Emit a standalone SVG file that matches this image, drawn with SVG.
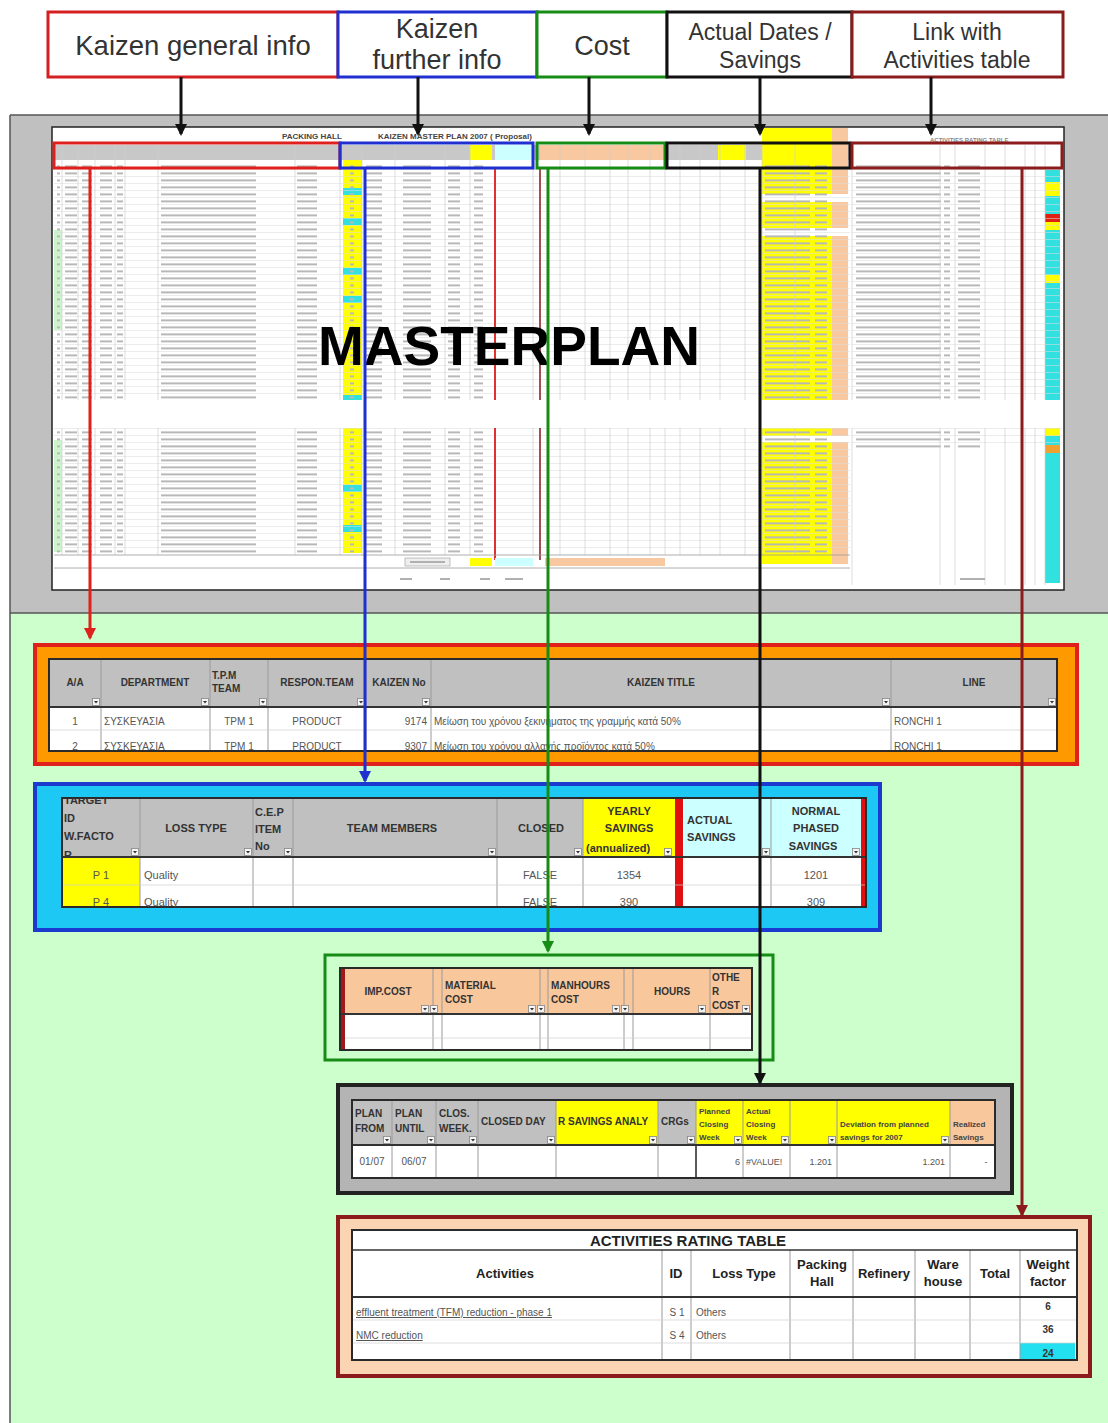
<svg xmlns="http://www.w3.org/2000/svg" xmlns:xlink="http://www.w3.org/1999/xlink" width="1108" height="1423" viewBox="0 0 1108 1423">
<style>
text{font-family:"Liberation Sans",Arial,sans-serif}
.lbl{font-size:25px;fill:#333;text-anchor:middle}
.hb{font-size:10px;font-weight:bold;fill:#333}
.hbc{font-size:10px;font-weight:bold;fill:#333;text-anchor:middle}
.bt{font-size:10px;fill:#555}
.btc{font-size:10px;fill:#555;text-anchor:middle}
.btr{font-size:10px;fill:#555;text-anchor:end}
.sm{font-size:8px;font-weight:bold;fill:#444}
.grid{stroke:#9a9a9a;stroke-width:1;fill:none}
.lgrid{stroke:#cfcfcf;stroke-width:0.7;fill:none}
.tbl{fill:none;stroke:#2a2a2a;stroke-width:2}
.con{fill:none;stroke-width:3}
</style>
<defs>
<marker id="akr" markerWidth="12" markerHeight="12" refX="6" refY="10" markerUnits="userSpaceOnUse" viewBox="0 0 12 12"><path d="M0,0 L12,0 L6,12 Z" fill="#e0201c"/></marker>
<marker id="akb" markerWidth="12" markerHeight="12" refX="6" refY="10" markerUnits="userSpaceOnUse" viewBox="0 0 12 12"><path d="M0,0 L12,0 L6,12 Z" fill="#1f2fd0"/></marker>
<marker id="akg" markerWidth="12" markerHeight="12" refX="6" refY="10" markerUnits="userSpaceOnUse" viewBox="0 0 12 12"><path d="M0,0 L12,0 L6,12 Z" fill="#168c16"/></marker>
<marker id="akk" markerWidth="12" markerHeight="12" refX="6" refY="10" markerUnits="userSpaceOnUse" viewBox="0 0 12 12"><path d="M0,0 L12,0 L6,12 Z" fill="#111"/></marker>
<marker id="akd" markerWidth="12" markerHeight="12" refX="6" refY="10" markerUnits="userSpaceOnUse" viewBox="0 0 12 12"><path d="M0,0 L12,0 L6,12 Z" fill="#8c1c1c"/></marker>
<symbol id="fb" viewBox="0 0 8 8" width="8" height="8"><rect x="0.5" y="0.5" width="7" height="7" fill="#f4f4f4" stroke="#888" stroke-width="0.8"/><path d="M2,3 L6,3 L4,5.5 Z" fill="#333"/></symbol>
<pattern id="rowp" patternUnits="userSpaceOnUse" x="0" y="163" width="1108" height="7">
<line x1="0" y1="6.6" x2="1108" y2="6.6" stroke="#dcdcdc" stroke-width="0.6"/>
<g fill="#b8b8b8">
<rect x="57" y="2.4" width="3" height="2"/><rect x="65" y="2.4" width="12" height="2"/><rect x="82" y="2.4" width="10" height="2"/>
<rect x="100" y="2.4" width="12" height="2"/><rect x="117" y="2.4" width="6" height="2"/><rect x="161" y="2.4" width="95" height="2"/>
<rect x="297" y="2.4" width="20" height="2"/><rect x="350" y="2.4" width="4" height="2"/><rect x="366" y="2.4" width="16" height="2"/>
<rect x="403" y="2.4" width="28" height="2"/><rect x="448" y="2.4" width="12" height="2"/><rect x="474" y="2.4" width="9" height="2"/>
<rect x="765" y="2.4" width="45" height="2"/><rect x="815" y="2.4" width="12" height="2"/><rect x="856" y="2.4" width="85" height="2"/>
<rect x="944" y="2.4" width="6" height="2"/><rect x="958" y="2.4" width="22" height="2"/>
</g>
</pattern>
<clipPath id="cTarget"><rect x="62" y="798" width="78" height="59"/></clipPath>
<clipPath id="cYearly"><rect x="583" y="798" width="80" height="59"/></clipPath>
<clipPath id="cLoss"><rect x="62" y="798" width="804" height="109"/></clipPath>
<clipPath id="cDept"><rect x="49" y="659" width="1008" height="92"/></clipPath>
<clipPath id="cDates"><rect x="352" y="1100" width="643" height="78"/></clipPath>
<clipPath id="cAct"><rect x="352" y="1230" width="725" height="130"/></clipPath>
</defs>

<rect width="1108" height="1423" fill="#ffffff"/>
<rect x="10" y="115" width="1098" height="498" fill="#c0c0c0"/>
<rect x="10" y="613" width="1098" height="810" fill="#ccffcc"/>
<path d="M10,115 H1108 M10,613 H1108 M10,115 V1423" stroke="#555" stroke-width="1.5" fill="none"/>

<!-- label boxes -->
<g id="lbl-general"><rect x="48" y="12" width="290" height="65" fill="#fff" stroke="#d42020" stroke-width="3"/><text class="lbl" x="193" y="55" style="font-size:27.5px">Kaizen general info</text></g>
<g id="lbl-further"><rect x="338" y="12" width="199" height="65" fill="#fff" stroke="#1f2fd0" stroke-width="3"/><text class="lbl" x="437" y="38" style="font-size:27px">Kaizen</text><text class="lbl" x="437" y="69" style="font-size:27px">further info</text></g>
<g id="lbl-cost"><rect x="537" y="12" width="130" height="65" fill="#fff" stroke="#168c16" stroke-width="3"/><text class="lbl" x="602" y="55" style="font-size:27px">Cost</text></g>
<g id="lbl-dates"><rect x="667" y="12" width="185" height="65" fill="#fff" stroke="#111" stroke-width="3"/><text class="lbl" x="760" y="40" style="font-size:23px">Actual Dates /</text><text class="lbl" x="760" y="68" style="font-size:23px">Savings</text></g>
<g id="lbl-link"><rect x="852" y="12" width="211" height="65" fill="#fff" stroke="#8c1c1c" stroke-width="3"/><text class="lbl" x="957" y="40" style="font-size:23px">Link with</text><text class="lbl" x="957" y="68" style="font-size:23px">Activities table</text></g>

<!-- masterplan spreadsheet -->
<g id="masterplan">
<rect x="52" y="127" width="1012" height="463" fill="#fff" stroke="#222" stroke-width="1.5"/>
<rect x="762" y="128" width="70" height="272" fill="#ffff00"/>
<rect x="832" y="128" width="16" height="272" fill="#f8c8a0"/>
<rect x="762" y="428" width="70" height="136" fill="#ffff00"/>
<rect x="832" y="428" width="16" height="136" fill="#f8c8a0"/>
<rect x="762" y="194" width="86" height="8" fill="#fff"/>
<rect x="762" y="228" width="86" height="8" fill="#fff"/>
<rect x="762" y="436" width="86" height="6" fill="#fff"/>
<rect x="54" y="145" width="796" height="15" fill="#c8c8c8"/>
<rect x="470" y="145" width="22" height="15" fill="#ffff00"/>
<rect x="495" y="145" width="38" height="15" fill="#ccffff"/>
<rect x="540" y="145" width="125" height="15" fill="#f8c8a0"/>
<rect x="718" y="145" width="28" height="15" fill="#ffff00"/>
<rect x="762" y="145" width="70" height="15" fill="#ffff00"/>
<rect x="832" y="145" width="16" height="15" fill="#f8c8a0"/>
<rect x="343" y="160" width="19" height="240" fill="#ffff00"/>
<rect x="343" y="428" width="19" height="125" fill="#ffff00"/>
<g fill="#33e0e0">
<rect x="343" y="188" width="19" height="7"/><rect x="343" y="218" width="19" height="7"/><rect x="343" y="268" width="19" height="7"/>
<rect x="343" y="296" width="19" height="7"/><rect x="343" y="395" width="19" height="5"/><rect x="343" y="485" width="19" height="7"/><rect x="343" y="525" width="19" height="7"/>
<rect x="1045" y="170" width="15" height="230" /><rect x="1045" y="428" width="15" height="155"/>
</g>
<rect x="1045" y="182" width="15" height="14" fill="#ffff00"/>
<rect x="1045" y="214" width="15" height="8" fill="#e02010"/>
<rect x="1045" y="222" width="15" height="8" fill="#ffff00"/>
<rect x="1045" y="275" width="15" height="8" fill="#ffff00"/>
<rect x="1045" y="428" width="15" height="8" fill="#ffff00"/>
<rect x="1045" y="445" width="15" height="8" fill="#f0a030"/>
<rect x="54" y="230" width="8" height="100" fill="#ccf5cc"/>
<rect x="54" y="440" width="8" height="112" fill="#ccf5cc"/>
<rect x="54" y="163" width="796" height="237" fill="url(#rowp)"/>
<rect x="852" y="163" width="210" height="237" fill="url(#rowp)"/>
<rect x="54" y="428" width="796" height="126" fill="url(#rowp)"/>
<rect x="852" y="428" width="210" height="21" fill="url(#rowp)"/>
<path class="lgrid" d="M62,145V400M78,145V400M95,145V400M115,145V400M125,145V400M158,145V400M295,145V400M340,145V400M362,145V400M395,145V400M445,145V400M470,145V400M533,145V400M560,145V400M585,145V400M610,145V400M628,145V400M650,145V400M665,145V400M680,145V400M700,145V400M720,145V400M745,145V400M762,145V400M795,145V400M852,145V400M940,145V400M955,145V400M985,145V400M1005,145V400M1025,145V400M1035,145V400M1045,145V400
M62,428V555M78,428V555M95,428V555M115,428V555M125,428V555M158,428V555M295,428V555M340,428V555M362,428V555M395,428V555M445,428V555M470,428V555M533,428V555M560,428V555M585,428V555M610,428V555M628,428V555M650,428V555M665,428V555M680,428V555M700,428V555M720,428V555M745,428V555M762,428V555M795,428V555M852,428V585M940,428V585M955,428V585M985,428V585M1005,428V585M1025,428V585M1035,428V585M1045,428V585"/>
<path d="M495,168V400M495,428V560" stroke="#e03030" stroke-width="2"/>
<path d="M540,168V400M540,428V560" stroke="#a05050" stroke-width="2"/>
<path d="M54,555H850M54,568H850" stroke="#999" stroke-width="0.8"/>
<rect x="405" y="558" width="45" height="8" fill="#eee" stroke="#999" stroke-width="0.6"/>
<rect x="470" y="558" width="22" height="8" fill="#ffff00"/>
<rect x="495" y="558" width="38" height="8" fill="#ccffff"/>
<rect x="545" y="558" width="120" height="8" fill="#f8c8a0"/>
<g fill="#b0b0b0"><rect x="410" y="561" width="35" height="2"/><rect x="400" y="578" width="12" height="2"/><rect x="440" y="578" width="10" height="2"/><rect x="480" y="578" width="10" height="2"/><rect x="505" y="578" width="18" height="2"/><rect x="960" y="578" width="25" height="2"/></g>
<text class="sm" x="282" y="139">PACKING HALL</text>
<text class="sm" x="378" y="139">KAIZEN MASTER PLAN 2007   ( Proposal)</text>
<text x="930" y="142" style="font-size:6px;fill:#888;font-weight:bold">ACTIVITIES RATING TABLE</text>
<text x="318" y="365" textLength="382" lengthAdjust="spacingAndGlyphs" style="font-size:56px;font-weight:bold;fill:#000">MASTERPLAN</text>
<rect x="54" y="143" width="286" height="25" fill="none" stroke="#e0201c" stroke-width="3"/>
<rect x="340" y="143" width="193" height="25" fill="none" stroke="#1f2fd0" stroke-width="3"/>
<rect x="537" y="143" width="128" height="25" fill="none" stroke="#168c16" stroke-width="3"/>
<rect x="667" y="143" width="183" height="25" fill="none" stroke="#111" stroke-width="3"/>
<rect x="852" y="143" width="210" height="25" fill="none" stroke="#8c1c1c" stroke-width="3"/>
</g>

<!-- department table -->
<g id="dept-table">
<rect x="35" y="645" width="1042" height="119" fill="#ff9900" stroke="#e0201c" stroke-width="4"/>
<rect x="49" y="659" width="1008" height="92" fill="#fff"/>
<rect x="49" y="659" width="1008" height="48" fill="#c0c0c0"/>
<path class="grid" d="M101,659V751M210,659V751M268,659V751M366,659V751M431,659V751M891,659V751"/>
<path class="lgrid" d="M49,730H1057"/>
<path d="M49,707H1057" stroke="#333" stroke-width="2"/>
<rect class="tbl" x="49" y="659" width="1008" height="92"/>
<text class="hbc" x="75" y="686">A/A</text>
<text class="hbc" x="155" y="686">DEPARTMENT</text>
<text class="hb" x="212" y="679">T.P.M</text><text class="hb" x="212" y="692">TEAM</text>
<text class="hbc" x="317" y="686">RESPON.TEAM</text>
<text class="hbc" x="399" y="686">KAIZEN No</text>
<text class="hbc" x="661" y="686">KAIZEN  TITLE</text>
<text class="hbc" x="974" y="686">LINE</text>
<use href="#fb" x="92" y="698"/><use href="#fb" x="201" y="698"/><use href="#fb" x="259" y="698"/><use href="#fb" x="357" y="698"/><use href="#fb" x="422" y="698"/><use href="#fb" x="882" y="698"/><use href="#fb" x="1048" y="698"/>
<g clip-path="url(#cDept)">
<text class="btc" x="75" y="725">1</text><text class="bt" x="104" y="725">ΣΥΣΚΕΥΑΣΙΑ</text><text class="btc" x="239" y="725">TPM 1</text><text class="btc" x="317" y="725">PRODUCT</text><text class="btr" x="427" y="725">9174</text>
<text class="bt" x="434" y="725">Μείωση του χρόνου ξεκινήματος της γραμμής κατά 50%</text><text class="bt" x="894" y="725">RONCHI 1</text>
<text class="btc" x="75" y="750">2</text><text class="bt" x="104" y="750">ΣΥΣΚΕΥΑΣΙΑ</text><text class="btc" x="239" y="750">TPM 1</text><text class="btc" x="317" y="750">PRODUCT</text><text class="btr" x="427" y="750">9307</text>
<text class="bt" x="434" y="750">Μείωση του χρόνου αλλαγής προϊόντος κατά 50%</text><text class="bt" x="894" y="750">RONCHI 1</text>
</g>
</g>

<!-- loss / savings table -->
<g id="loss-table">
<rect x="35" y="784" width="845" height="146" fill="#1ec8f4" stroke="#1a3ad0" stroke-width="4"/>
<rect x="62" y="798" width="804" height="109" fill="#fff"/>
<rect x="62" y="798" width="521" height="59" fill="#c0c0c0"/>
<rect x="583" y="798" width="92" height="59" fill="#ffff00"/>
<rect x="684" y="798" width="177" height="59" fill="#ccffff"/>
<rect x="62" y="858" width="78" height="49" fill="#ffff00"/>
<rect x="675" y="798" width="8" height="109" fill="#e01010"/>
<rect x="861" y="798" width="5" height="109" fill="#e01010"/>
<path class="grid" d="M140,798V907M253,798V907M293,798V907M497,798V907M583,798V907M771,798V907"/>
<path class="lgrid" d="M62,885H866"/>
<path d="M62,857H866" stroke="#333" stroke-width="2"/>
<rect class="tbl" x="62" y="798" width="804" height="109"/>
<g clip-path="url(#cTarget)"><text class="hb" x="64" y="804" style="font-size:11px">TARGET</text><text class="hb" x="64" y="822" style="font-size:11px">ID</text><text class="hb" x="64" y="840" style="font-size:11px">W.FACTO</text><text class="hb" x="64" y="859" style="font-size:11px">R</text></g>
<text class="hbc" x="196" y="832" style="font-size:11px">LOSS TYPE</text>
<text class="hb" x="255" y="816" style="font-size:11px">C.E.P</text><text class="hb" x="255" y="833" style="font-size:11px">ITEM</text><text class="hb" x="255" y="850" style="font-size:11px">No</text>
<text class="hbc" x="392" y="832" style="font-size:11px">TEAM   MEMBERS</text>
<text class="hbc" x="541" y="832" style="font-size:11px">CLOSED</text>
<g clip-path="url(#cYearly)"><text class="hbc" x="629" y="815" style="font-size:11px">YEARLY</text><text class="hbc" x="629" y="832" style="font-size:11px">SAVINGS</text><text class="hb" x="586" y="852" style="font-size:11px">(annualized)</text></g>
<text class="hb" x="687" y="824" style="font-size:11px">ACTUAL</text><text class="hb" x="687" y="841" style="font-size:11px">SAVINGS</text>
<text class="hbc" x="816" y="815" style="font-size:11px">NORMAL</text><text class="hbc" x="816" y="832" style="font-size:11px">PHASED</text><text class="hbc" x="813" y="850" style="font-size:11px">SAVINGS</text>
<use href="#fb" x="131" y="848"/><use href="#fb" x="244" y="848"/><use href="#fb" x="284" y="848"/><use href="#fb" x="488" y="848"/><use href="#fb" x="574" y="848"/><use href="#fb" x="664" y="848"/><use href="#fb" x="762" y="848"/><use href="#fb" x="852" y="848"/>
<g clip-path="url(#cLoss)">
<text class="btc" x="101" y="879" style="font-size:11px">P 1</text><text class="bt" x="144" y="879" style="font-size:11px">Quality</text><text class="btc" x="540" y="879" style="font-size:11px">FALSE</text><text class="btc" x="629" y="879" style="font-size:11px">1354</text><text class="btc" x="816" y="879" style="font-size:11px">1201</text>
<text class="btc" x="101" y="906" style="font-size:11px">P 4</text><text class="bt" x="144" y="906" style="font-size:11px">Quality</text><text class="btc" x="540" y="906" style="font-size:11px">FALSE</text><text class="btc" x="629" y="906" style="font-size:11px">390</text><text class="btc" x="816" y="906" style="font-size:11px">309</text>
</g>
</g>

<!-- cost table -->
<g id="cost-table">
<rect x="325" y="955" width="448" height="105" fill="#ccffcc" stroke="#168c16" stroke-width="3"/>
<rect x="340" y="968" width="412" height="82" fill="#fff"/>
<rect x="340" y="968" width="412" height="46" fill="#f9c79c"/>
<rect x="340" y="968" width="5" height="82" fill="#a01818"/>
<path class="grid" d="M433,968V1050M442,968V1050M540,968V1050M548,968V1050M624,968V1050M633,968V1050M710,968V1050"/>
<path class="lgrid" d="M345,1038H752"/>
<path d="M340,1014H752" stroke="#333" stroke-width="2"/>
<rect class="tbl" x="340" y="968" width="412" height="82"/>
<text class="hbc" x="388" y="995">IMP.COST</text>
<text class="hb" x="445" y="989">MATERIAL</text><text class="hb" x="445" y="1003">COST</text>
<text class="hb" x="551" y="989">MANHOURS</text><text class="hb" x="551" y="1003">COST</text>
<text class="hbc" x="672" y="995">HOURS</text>
<text class="hb" x="712" y="981">OTHE</text><text class="hb" x="712" y="995">R</text><text class="hb" x="712" y="1009">COST</text>
<use href="#fb" x="421" y="1005"/><use href="#fb" x="430" y="1005"/><use href="#fb" x="528" y="1005"/><use href="#fb" x="537" y="1005"/><use href="#fb" x="612" y="1005"/><use href="#fb" x="621" y="1005"/><use href="#fb" x="698" y="1005"/><use href="#fb" x="742" y="1005"/>
</g>

<!-- actual dates table -->
<g id="dates-table">
<rect x="338" y="1085" width="674" height="108" fill="#b4b4b4" stroke="#222" stroke-width="4"/>
<rect x="352" y="1100" width="643" height="78" fill="#fff"/>
<rect x="352" y="1100" width="643" height="45" fill="#c0c0c0"/>
<rect x="556" y="1100" width="102" height="45" fill="#ffff00"/>
<rect x="696" y="1100" width="254" height="45" fill="#ffff00"/>
<rect x="950" y="1100" width="45" height="45" fill="#f9c79c"/>
<path class="grid" d="M392,1100V1178M436,1100V1178M478,1100V1178M556,1100V1178M658,1100V1178M696,1100V1178M743,1100V1178M790,1100V1178M837,1100V1178M950,1100V1178"/>
<path d="M352,1145H995" stroke="#333" stroke-width="2"/>
<path d="M696,1145V1178" stroke="#333" stroke-width="1.5"/>
<rect class="tbl" x="352" y="1100" width="643" height="78"/>
<g clip-path="url(#cDates)">
<text class="hb" x="355" y="1117">PLAN</text><text class="hb" x="355" y="1132">FROM</text>
<text class="hb" x="395" y="1117">PLAN</text><text class="hb" x="395" y="1132">UNTIL</text>
<text class="hb" x="439" y="1117">CLOS.</text><text class="hb" x="439" y="1132">WEEK.</text>
<text class="hb" x="481" y="1125">CLOSED DAY</text>
<text class="hb" x="558" y="1125">R SAVINGS ANALY</text>
<text class="hb" x="661" y="1125">CRGs</text>
<text class="sm" x="699" y="1114">Planned</text><text class="sm" x="699" y="1127">Closing</text><text class="sm" x="699" y="1140">Week</text>
<text class="sm" x="746" y="1114">Actual</text><text class="sm" x="746" y="1127">Closing</text><text class="sm" x="746" y="1140">Week</text>
<text class="sm" x="840" y="1127">Deviation from planned</text><text class="sm" x="840" y="1140">savings for 2007</text>
<text class="sm" x="953" y="1127">Realized</text><text class="sm" x="953" y="1140">Savings</text>
<text class="btc" x="372" y="1165">01/07</text><text class="btc" x="414" y="1165">06/07</text>
<text class="btr" x="740" y="1165" style="font-size:9px">6</text><text class="bt" x="746" y="1165" style="font-size:9px">#VALUE!</text>
<text class="btr" x="832" y="1165" style="font-size:9px">1.201</text><text class="btr" x="945" y="1165" style="font-size:9px">1.201</text><text class="btc" x="986" y="1165" style="font-size:9px">-</text>
</g>
<use href="#fb" x="383" y="1136"/><use href="#fb" x="427" y="1136"/><use href="#fb" x="469" y="1136"/><use href="#fb" x="547" y="1136"/><use href="#fb" x="649" y="1136"/><use href="#fb" x="687" y="1136"/><use href="#fb" x="734" y="1136"/><use href="#fb" x="781" y="1136"/><use href="#fb" x="828" y="1136"/><use href="#fb" x="941" y="1136"/>
</g>

<!-- activities rating table -->
<g id="activities-table">
<rect x="338" y="1217" width="752" height="159" fill="#fbd4b4" stroke="#8c1c1c" stroke-width="4"/>
<rect x="352" y="1230" width="725" height="130" fill="#fff"/>
<rect x="1020" y="1343" width="55" height="17" fill="#22e0f0"/>
<path class="grid" d="M662,1250V1360M691,1250V1360M790,1250V1360M853,1250V1360M915,1250V1360M970,1250V1360M1020,1250V1360"/>
<path class="lgrid" d="M352,1320H1077M352,1343H1077"/>
<path d="M352,1250H1077" stroke="#333" stroke-width="1.5"/>
<path d="M352,1297H1077" stroke="#333" stroke-width="2"/>
<rect class="tbl" x="352" y="1230" width="725" height="130"/>
<text x="688" y="1246" style="font-size:15px;font-weight:bold;fill:#222;text-anchor:middle">ACTIVITIES RATING TABLE</text>
<g style="font-size:13px;font-weight:bold;fill:#222;text-anchor:middle">
<text x="505" y="1278">Activities</text><text x="676" y="1278">ID</text><text x="744" y="1278">Loss Type</text>
<text x="822" y="1269">Packing</text><text x="822" y="1286">Hall</text>
<text x="884" y="1278">Refinery</text>
<text x="943" y="1269">Ware</text><text x="943" y="1286">house</text>
<text x="995" y="1278">Total</text>
<text x="1048" y="1269">Weight</text><text x="1048" y="1286">factor</text>
</g>
<g clip-path="url(#cAct)">
<text class="bt" x="356" y="1316" style="text-decoration:underline">effluent treatment (TFM) reduction - phase 1</text>
<text class="btc" x="677" y="1316">S 1</text><text class="bt" x="696" y="1316">Others</text>
<text class="hbc" x="1048" y="1310">6</text>
<text class="bt" x="356" y="1339" style="text-decoration:underline">NMC reduction</text>
<text class="btc" x="677" y="1339">S 4</text><text class="bt" x="696" y="1339">Others</text>
<text class="hbc" x="1048" y="1333">36</text>
<text class="hbc" x="1048" y="1357">24</text>
</g>
</g>

<!-- connectors -->
<g id="connectors">
<path class="con" stroke="#111" d="M181,77V134" marker-end="url(#akk)"/>
<path class="con" stroke="#111" d="M418,77V134" marker-end="url(#akk)"/>
<path class="con" stroke="#111" d="M589,77V134" marker-end="url(#akk)"/>
<path class="con" stroke="#111" d="M760,77V134" marker-end="url(#akk)"/>
<path class="con" stroke="#111" d="M931,77V134" marker-end="url(#akk)"/>
<path class="con" stroke="#e0201c" d="M90,168V638" marker-end="url(#akr)"/>
<path class="con" stroke="#1f2fd0" d="M365,168V781" marker-end="url(#akb)"/>
<path class="con" stroke="#168c16" d="M548,168V951" marker-end="url(#akg)"/>
<path class="con" stroke="#111" d="M760,168V1083" marker-end="url(#akk)"/>
<path class="con" stroke="#8c1c1c" d="M1022,168V1215" marker-end="url(#akd)"/>
</g>
</svg>
